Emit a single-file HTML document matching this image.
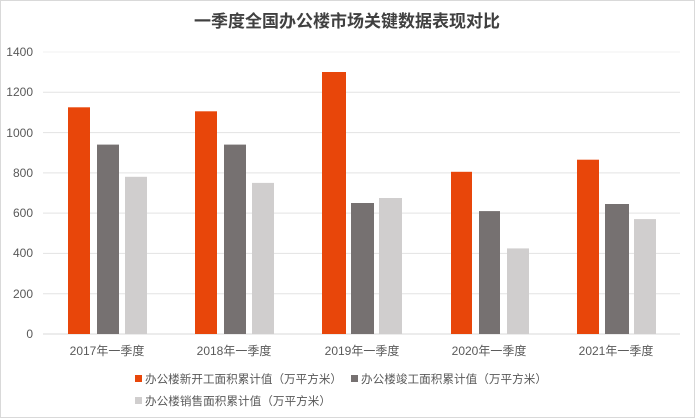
<!DOCTYPE html>
<html><head><meta charset="utf-8"><style>
body{margin:0;background:#fff}
svg{display:block}
text{font-family:"Liberation Sans","Noto Sans CJK SC",sans-serif}
</style></head><body>
<svg width="695" height="418" viewBox="0 0 695 418">
<rect x="0.5" y="0.5" width="694" height="417" fill="#fff" stroke="#d9d9d9"/>
<text x="347" y="27" text-anchor="middle" font-size="17" font-weight="bold" fill="#404040">一季度全国办公楼市场关键数据表现对比</text>
<g stroke="#e3e3e3" stroke-width="1">
<line x1="43" x2="680" y1="52" y2="52" stroke="#f2f2f2"/>
<line x1="43" x2="680" y1="92.3" y2="92.3"/>
<line x1="43" x2="680" y1="132.6" y2="132.6"/>
<line x1="43" x2="680" y1="172.9" y2="172.9"/>
<line x1="43" x2="680" y1="213.1" y2="213.1"/>
<line x1="43" x2="680" y1="253.4" y2="253.4"/>
<line x1="43" x2="680" y1="293.7" y2="293.7"/>
<line x1="43" x2="680" y1="334" y2="334" stroke="#d9d9d9"/>
</g>
<g font-size="12" fill="#595959" text-anchor="end">
<text x="33" y="56">1400</text><text x="33" y="96">1200</text><text x="33" y="137">1000</text>
<text x="33" y="177">800</text><text x="33" y="217">600</text><text x="33" y="257">400</text>
<text x="33" y="298">200</text><text x="33" y="338">0</text>
</g>
<g>
<rect x="68" y="107.3" width="22" height="226.7" fill="#E8460A"/>
<rect x="97" y="144.6" width="22" height="189.4" fill="#767171"/>
<rect x="125" y="176.8" width="22" height="157.2" fill="#D0CECE"/>
<rect x="195" y="111.3" width="22" height="222.7" fill="#E8460A"/>
<rect x="224" y="144.6" width="22" height="189.4" fill="#767171"/>
<rect x="252" y="182.9" width="22" height="151.1" fill="#D0CECE"/>
<rect x="322" y="72" width="24" height="262" fill="#E8460A"/>
<rect x="351" y="203" width="23" height="131" fill="#767171"/>
<rect x="379" y="198" width="23" height="136" fill="#D0CECE"/>
<rect x="451" y="171.8" width="21" height="162.2" fill="#E8460A"/>
<rect x="479" y="211.1" width="21" height="122.9" fill="#767171"/>
<rect x="507" y="248.4" width="22" height="85.6" fill="#D0CECE"/>
<rect x="577" y="159.7" width="22" height="174.3" fill="#E8460A"/>
<rect x="605" y="204" width="24" height="130" fill="#767171"/>
<rect x="634" y="219.1" width="22" height="114.9" fill="#D0CECE"/>
</g>
<g font-size="12" fill="#595959" text-anchor="middle">
<text x="107" y="355">2017年一季度</text>
<text x="234" y="355">2018年一季度</text>
<text x="362" y="355">2019年一季度</text>
<text x="489" y="355">2020年一季度</text>
<text x="616" y="355">2021年一季度</text>
</g>
<g font-size="11.5" fill="#595959">
<rect x="135" y="375" width="7" height="7" fill="#E8460A"/>
<text x="145" y="383" textLength="197" lengthAdjust="spacingAndGlyphs">办公楼新开工面积累计值（万平方米）</text>
<rect x="351" y="375" width="7" height="7" fill="#767171"/>
<text x="361" y="383" textLength="186" lengthAdjust="spacingAndGlyphs">办公楼竣工面积累计值（万平方米）</text>
<rect x="135" y="397" width="7" height="7" fill="#D0CECE"/>
<text x="145" y="405" textLength="186" lengthAdjust="spacingAndGlyphs">办公楼销售面积累计值（万平方米）</text>
</g>
</svg>
</body></html>
